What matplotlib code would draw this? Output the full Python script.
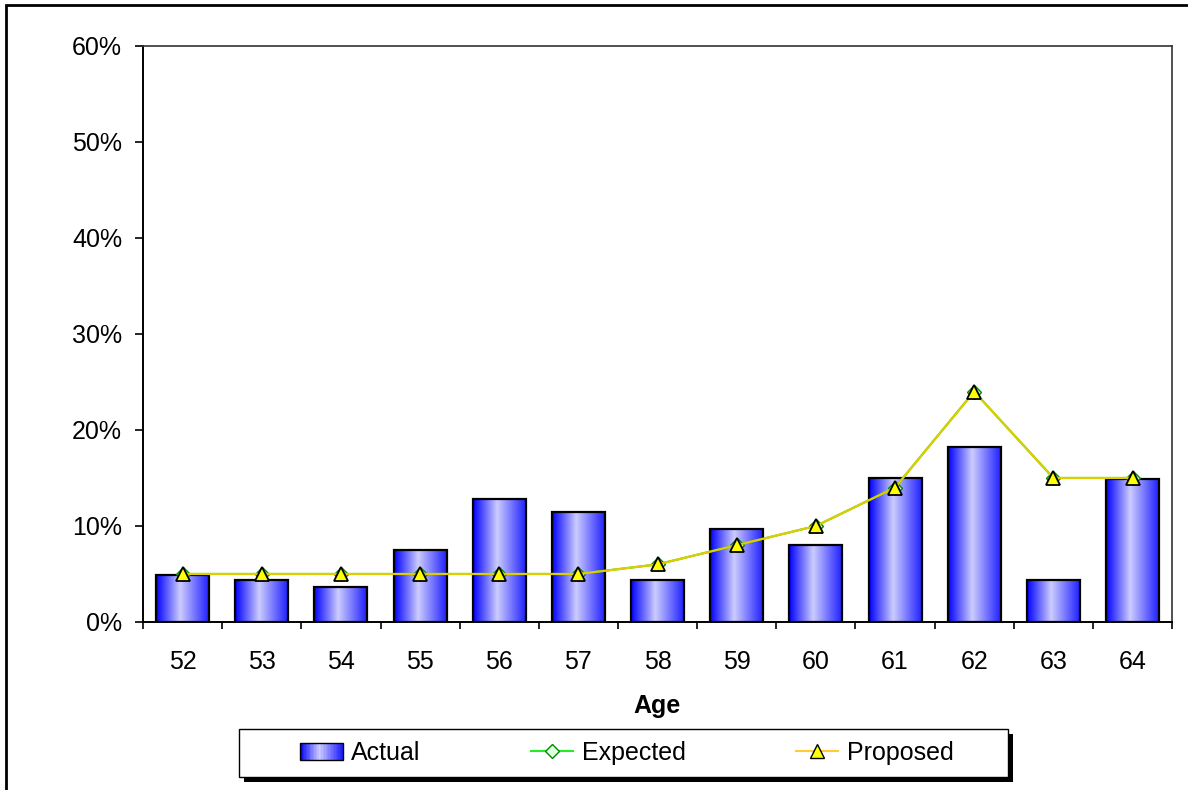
import numpy as np
import matplotlib
matplotlib.use('Agg')
import matplotlib.pyplot as plt
from matplotlib.colors import LinearSegmentedColormap
from matplotlib.patches import Rectangle
from matplotlib.legend_handler import HandlerBase
from matplotlib.lines import Line2D
from matplotlib.ticker import PercentFormatter

plt.rcParams['font.family'] = ['Liberation Sans', 'DejaVu Sans']

ages = ['52', '53', '54', '55', '56', '57', '58', '59', '60', '61', '62', '63', '64']
actual = [0.049, 0.044, 0.036, 0.075, 0.128, 0.115, 0.044, 0.097, 0.080, 0.150, 0.182, 0.044, 0.149]
expected = [0.05, 0.05, 0.05, 0.05, 0.05, 0.05, 0.06, 0.08, 0.10, 0.14, 0.24, 0.15, 0.15]
proposed = [0.05, 0.05, 0.05, 0.05, 0.05, 0.05, 0.06, 0.08, 0.10, 0.14, 0.24, 0.15, 0.15]

blues = LinearSegmentedColormap.from_list(
    'bar_blue', [(0.0, '#0000ff'), (0.45, '#ccccff'), (1.0, '#1a1aff')])
grad = np.linspace(0, 1, 256).reshape(1, -1)


class GradientHandler(HandlerBase):
    # legend key filled with the same horizontal gradient as the bars
    def create_artists(self, legend, orig_handle, xdescent, ydescent,
                       width, height, fontsize, trans):
        n = 30
        out = []
        for i in range(n):
            out.append(Rectangle((-xdescent + i * width / n, -ydescent), width / n + 0.3, height,
                                 facecolor=blues((i + 0.5) / n), edgecolor='none', transform=trans))
        out.append(Rectangle((-xdescent, -ydescent), width, height, facecolor='none',
                             edgecolor='black', lw=1, transform=trans))
        return out


fig = plt.figure(figsize=(11.88, 7.90), dpi=100)
ax = fig.add_axes([0.1204, 0.2127, 0.8662, 0.7291])

x = np.arange(len(ages))
w = 0.67
for xi, v in zip(x, actual):
    ax.imshow(grad, cmap=blues, aspect='auto', extent=[xi - w / 2, xi + w / 2, 0, v],
              zorder=2, interpolation='bilinear')
bars = ax.bar(x, actual, width=w, facecolor='none', edgecolor='black', lw=1.6, zorder=3)

ax.plot(x, expected, color='#00dd00', lw=1.5, marker='D', markersize=7,
        markerfacecolor='#ccffcc', markeredgecolor='#008800', zorder=4)
ax.plot(x, proposed, color='#e0cc00', lw=1.6, marker='^', markersize=10,
        markerfacecolor='#ffff00', markeredgecolor='black', markeredgewidth=1.3, zorder=5)

ax.set_xlim(-0.5, len(ages) - 0.5)
ax.set_ylim(0, 0.6)
ax.set_yticks(np.arange(0, 0.61, 0.1))
ax.yaxis.set_major_formatter(PercentFormatter(1.0, decimals=0))
ax.set_xticks(x)
ax.set_xticklabels(ages)
ax.set_xticks(np.arange(-0.5, len(ages), 1.0), minor=True)
ax.tick_params(axis='x', which='major', direction='in', length=4, width=1.2, pad=20, labelsize=18)
ax.tick_params(axis='x', which='minor', direction='out', length=5, width=1.2)
ax.tick_params(axis='y', direction='out', length=6, width=1.2, pad=9, labelsize=18)
for side in ['left', 'bottom']:
    ax.spines[side].set_linewidth(1.4)
for side in ['top', 'right']:
    ax.spines[side].set_linewidth(1.2)
    ax.spines[side].set_color('#333333')

fig.text(657.5 / 1188, 1 - 706 / 790, 'Age', ha='center', va='center',
         fontsize=18, fontweight='bold')

# legend box with a solid drop shadow
W, H = 1188, 790
fig.patches.append(Rectangle((244 / W, 1 - 782 / H), 769 / W, 48 / H, transform=fig.transFigure,
                             facecolor='black', edgecolor='none', zorder=1))
fig.patches.append(Rectangle((239 / W, 1 - 777 / H), 769 / W, 48 / H, transform=fig.transFigure,
                             facecolor='white', edgecolor='black', lw=1.0, zorder=2))

handles = [Rectangle((0, 0), 1, 1),
           Line2D([], [], color='#22ee22', lw=1.5, marker='D', markersize=7,
                  markerfacecolor='#ddffdd', markeredgecolor='#008800'),
           Line2D([], [], color='#ffcc33', lw=1.5, marker='^', markersize=10,
                  markerfacecolor='#ffff00', markeredgecolor='black')]
leg = fig.legend(handles, ['Actual', 'Expected', 'Proposed'], ncol=3,
                 loc='center', bbox_to_anchor=(627 / W, 1 - 753 / H),
                 fontsize=18, frameon=False,
                 handlelength=1.7, handletextpad=0.35, columnspacing=4.4,
                 borderpad=0.45, borderaxespad=0,
                 handler_map={Rectangle: GradientHandler()})
leg.set_zorder(5)

# outer chart border
fig.patches.append(Rectangle((6 / W, -0.05), 1.1, 1 - 5 / H + 0.05, transform=fig.transFigure,
                             fill=False, edgecolor='black', lw=2))

fig.savefig('out.png', dpi=100)
